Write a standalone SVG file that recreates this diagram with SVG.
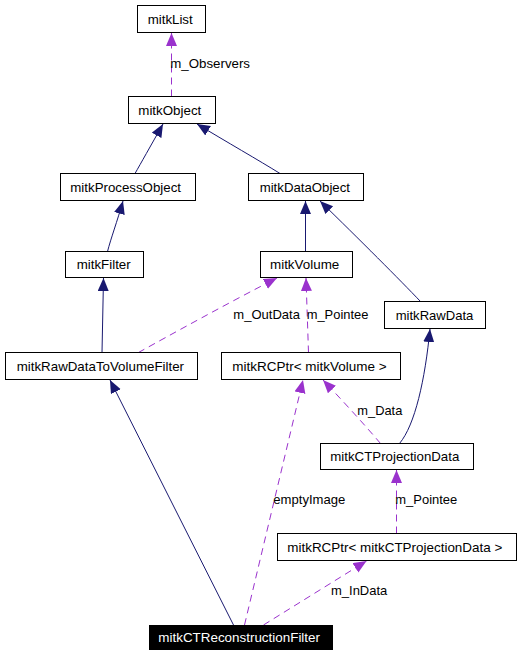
<svg xmlns="http://www.w3.org/2000/svg" width="520" height="656" viewBox="0 0 520 656">
<defs>
<marker id="ah-inh" markerUnits="userSpaceOnUse" markerWidth="14" markerHeight="12" refX="13" refY="5.5" orient="auto">
<path d="M0,0 L13,5.5 L0,11 z" fill="#191970"/>
</marker>
<marker id="ah-use" markerUnits="userSpaceOnUse" markerWidth="14" markerHeight="12" refX="13" refY="5.5" orient="auto">
<path d="M0,0 L13,5.5 L0,11 z" fill="#9a32cd"/>
</marker>
</defs>
<style>
.box{fill:#fff;stroke:#000;stroke-width:1}
.t{font-family:"Liberation Sans",Arial,sans-serif;font-size:13px;fill:#000}
.inh{fill:none;stroke:#191970;stroke-width:1;marker-end:url(#ah-inh)}
.use{fill:none;stroke:#9a32cd;stroke-width:1;stroke-dasharray:7,5;marker-end:url(#ah-use)}
</style>
<rect width="520" height="656" fill="#fff"/>
<g id="connectors">
<path class="use" d="M171.5,96.5 L171.5,33"/>
<path class="inh" d="M135,173.5 C141,163 150,147 163,124"/>
<path class="inh" d="M280,173.5 C260,161 225,141 197,124"/>
<path class="inh" d="M107.5,251.5 C111,238 117,222 123,201"/>
<path class="inh" d="M305.5,251.5 L305.5,201"/>
<path class="inh" d="M420.5,301.5 C400,280 360,240 320,201"/>
<path class="inh" d="M102,352.5 L103.5,278"/>
<path class="use" d="M138.5,352.5 C170,335 230,302 277,278"/>
<path class="use" d="M308.5,352.5 L306,278"/>
<path class="inh" d="M399.5,443.5 C415,425 425,380 430,329"/>
<path class="use" d="M380.5,443.5 C365,425 340,398 323,380"/>
<path class="use" d="M244.5,625 L303,380"/>
<path class="inh" d="M233.5,625 L110,380"/>
<path class="use" d="M396.5,533.5 L396.5,470"/>
<path class="use" d="M263.5,625 L366.5,561"/>
<text class="t" x="170.3" y="67.5" textLength="79.7" lengthAdjust="spacingAndGlyphs">m_Observers</text>
<text class="t" x="233.3" y="319.3" textLength="66.7" lengthAdjust="spacingAndGlyphs">m_OutData</text>
<text class="t" x="306.7" y="319.3" textLength="61.7" lengthAdjust="spacingAndGlyphs">m_Pointee</text>
<text class="t" x="357.3" y="415" textLength="45" lengthAdjust="spacingAndGlyphs">m_Data</text>
<text class="t" x="273.3" y="504.3" textLength="72" lengthAdjust="spacingAndGlyphs">emptyImage</text>
<text class="t" x="395.3" y="504.3" textLength="62" lengthAdjust="spacingAndGlyphs">m_Pointee</text>
<text class="t" x="331" y="595.3" textLength="56.3" lengthAdjust="spacingAndGlyphs">m_InData</text>
</g>
<g id="mitkList"><rect class="box" x="137.5" y="5.5" width="68" height="27"/><text class="t" x="147.7" y="23.5" textLength="45" lengthAdjust="spacingAndGlyphs">mitkList</text></g>
<g id="mitkObject"><rect class="box" x="128.5" y="96.5" width="87" height="27"/><text class="t" x="138.3" y="114.5" textLength="63" lengthAdjust="spacingAndGlyphs">mitkObject</text></g>
<g id="mitkProcessObject"><rect class="box" x="60.5" y="173.5" width="135" height="27"/><text class="t" x="70.3" y="191.5" textLength="110.7" lengthAdjust="spacingAndGlyphs">mitkProcessObject</text></g>
<g id="mitkDataObject"><rect class="box" x="248.5" y="173.5" width="115" height="27"/><text class="t" x="259.7" y="191.5" textLength="90.3" lengthAdjust="spacingAndGlyphs">mitkDataObject</text></g>
<g id="mitkFilter"><rect class="box" x="65.5" y="251.5" width="78" height="26"/><text class="t" x="76.7" y="269" textLength="54" lengthAdjust="spacingAndGlyphs">mitkFilter</text></g>
<g id="mitkVolume"><rect class="box" x="260.5" y="251.5" width="92" height="26"/><text class="t" x="270" y="269" textLength="69.3" lengthAdjust="spacingAndGlyphs">mitkVolume</text></g>
<g id="mitkRawData"><rect class="box" x="384.5" y="301.5" width="101" height="27"/><text class="t" x="395.7" y="319.5" textLength="77.7" lengthAdjust="spacingAndGlyphs">mitkRawData</text></g>
<g id="mitkRawDataToVolumeFilter"><rect class="box" x="5.5" y="352.5" width="192" height="27"/><text class="t" x="16.7" y="370.5" textLength="167.3" lengthAdjust="spacingAndGlyphs">mitkRawDataToVolumeFilter</text></g>
<g id="mitkRCPtrVolume"><rect class="box" x="221.5" y="352.5" width="179" height="27"/><text class="t" x="232.3" y="370.5" textLength="154.3" lengthAdjust="spacingAndGlyphs">mitkRCPtr&lt; mitkVolume &gt;</text></g>
<g id="mitkCTProjectionData"><rect class="box" x="320.5" y="443.5" width="153" height="26"/><text class="t" x="330.3" y="461" textLength="129" lengthAdjust="spacingAndGlyphs">mitkCTProjectionData</text></g>
<g id="mitkRCPtrCTProjectionData"><rect class="box" x="277.5" y="533.5" width="239" height="27"/><text class="t" x="287.3" y="551.5" textLength="215" lengthAdjust="spacingAndGlyphs">mitkRCPtr&lt; mitkCTProjectionData &gt;</text></g>
<g id="mitkCTReconstructionFilter"><rect x="149" y="625" width="184" height="25" fill="#000"/><text class="t" x="158.3" y="642" textLength="161.7" lengthAdjust="spacingAndGlyphs" style="fill:#fff">mitkCTReconstructionFilter</text></g>
</svg>
